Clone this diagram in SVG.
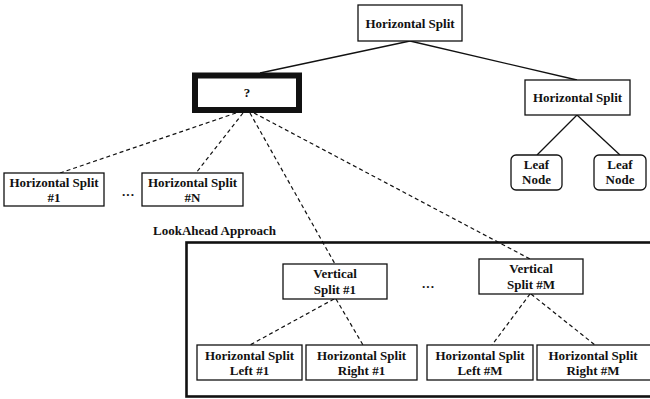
<svg xmlns="http://www.w3.org/2000/svg" width="650" height="399" viewBox="0 0 650 399">
<style>
.t{font-family:"Liberation Serif","Times New Roman",serif;font-weight:bold;font-size:13px;fill:#111;text-anchor:middle}
.b{fill:#fff;stroke:#111;stroke-width:1.3}
.s{stroke:#111;stroke-width:1.3;fill:none}
.d{stroke:#111;stroke-width:1.2;fill:none;stroke-dasharray:4,3}
</style>
<rect width="650" height="399" fill="#fff"/>
<g id="connectors">
<line class="s" x1="410" y1="41" x2="260" y2="73"/>
<line class="s" x1="410" y1="41" x2="577" y2="80"/>
<line class="s" x1="577" y1="115" x2="537" y2="155"/>
<line class="s" x1="577" y1="115" x2="620" y2="155"/>
<line class="d" x1="236" y1="113" x2="60" y2="173"/>
<line class="d" x1="243" y1="113" x2="196" y2="173"/>
<line class="d" x1="250" y1="113" x2="335" y2="264"/>
<line class="d" x1="254" y1="113" x2="530" y2="259"/>
<line class="d" x1="334" y1="299" x2="250" y2="345"/>
<line class="d" x1="336" y1="299" x2="363" y2="345"/>
<line class="d" x1="530" y1="294" x2="492" y2="345"/>
<line class="d" x1="531" y1="294" x2="595" y2="345"/>
</g>
<g id="lookahead">
<rect x="186.5" y="242.5" width="480" height="154" fill="none" stroke="#111" stroke-width="2.6"/>
<text class="t" x="153" y="235" style="text-anchor:start">LookAhead Approach</text>
</g>
<g id="root"><rect class="b" x="358" y="5" width="104" height="36"/><text class="t" x="410" y="28">Horizontal Split</text></g>
<g id="unknown"><rect x="195" y="75.5" width="104" height="34.5" fill="#fff" stroke="#111" stroke-width="6"/><text class="t" x="247" y="97">?</text></g>
<g id="hsplit-right"><rect class="b" x="525" y="80" width="105" height="35"/><text class="t" x="577.5" y="102">Horizontal Split</text></g>
<g id="leaf1"><rect class="b" x="511" y="155" width="51" height="35" rx="5"/><text class="t" x="536.5" y="169">Leaf</text><text class="t" x="536.5" y="184">Node</text></g>
<g id="leaf2"><rect class="b" x="594" y="155" width="52" height="35" rx="5"/><text class="t" x="620" y="169">Leaf</text><text class="t" x="620" y="184">Node</text></g>
<g id="hs1"><rect class="b" x="4" y="173" width="100" height="33"/><text class="t" x="54" y="187">Horizontal Split</text><text class="t" x="54" y="202">#1</text></g>
<text class="t" x="128" y="199">···</text>
<g id="hsN"><rect class="b" x="142" y="173" width="101" height="33"/><text class="t" x="192.5" y="187">Horizontal Split</text><text class="t" x="192.5" y="202">#N</text></g>
<g id="vs1"><rect class="b" x="283" y="264" width="104" height="35"/><text class="t" x="335" y="278">Vertical</text><text class="t" x="335" y="294">Split #1</text></g>
<text class="t" x="428" y="291">···</text>
<g id="vsM"><rect class="b" x="479" y="259" width="104" height="35"/><text class="t" x="531" y="273">Vertical</text><text class="t" x="531" y="289">Split #M</text></g>
<g id="l1"><rect class="b" x="197" y="345" width="105" height="35"/><text class="t" x="249.5" y="360">Horizontal Split</text><text class="t" x="249.5" y="375">Left #1</text></g>
<g id="r1"><rect class="b" x="306" y="345" width="111" height="35"/><text class="t" x="361.5" y="360">Horizontal Split</text><text class="t" x="361.5" y="375">Right #1</text></g>
<g id="lM"><rect class="b" x="427" y="345" width="106" height="35"/><text class="t" x="480" y="360">Horizontal Split</text><text class="t" x="480" y="375">Left #M</text></g>
<g id="rM"><rect class="b" x="537" y="345" width="115" height="35"/><text class="t" x="593" y="360">Horizontal Split</text><text class="t" x="593" y="375">Right #M</text></g>
</svg>
